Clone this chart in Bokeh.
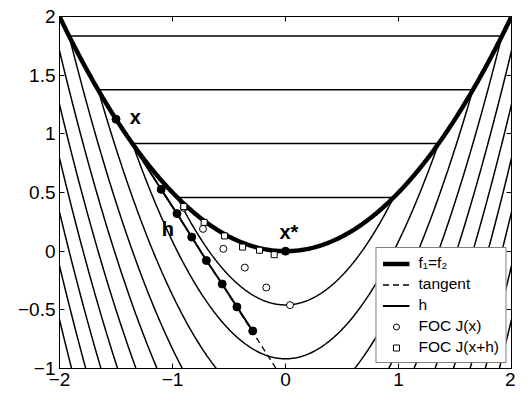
import numpy as np
from bokeh.plotting import figure
from bokeh.models import LinearAxis, FixedTicker, Range1d, Legend, LegendItem
from bokeh.core.properties import value
from bokeh.embed import file_html
from bokeh.resources import INLINE

# ---- data ----
levels = [0.458, 0.917, 1.375, 1.833, 2.292, 2.750, 3.208, 3.667, 4.125, 4.583]
x_ticks = [-2, -1, 0, 1, 2]
y_ticks = [-1, -0.5, 0, 0.5, 1, 1.5, 2]
x_tick_labels = ["\u22122", "\u22121", "0", "1", "2"]
y_tick_labels = ["\u22121", "\u22120.5", "0", "0.5", "1", "1.5", "2"]

h_x = [-1.50, -1.10, -0.96, -0.83, -0.70, -0.56, -0.43, -0.29]
h_y = [1.125, 0.527, 0.32, 0.12, -0.08, -0.28, -0.475, -0.68]
tangent_x = [-1.5, 0.0]
tangent_y = [1.125, -1.125]
focjx_x = [-0.90, -0.73, -0.55, -0.36, -0.17, 0.04]
focjx_y = [0.37, 0.19, 0.02, -0.14, -0.31, -0.46]
focjxh_x = [-0.90, -0.72, -0.54, -0.38, -0.23, -0.10]
focjxh_y = [0.38, 0.245, 0.13, 0.035, 0.008, -0.03]
xstar = [0.0, 0.0]

FONT = "Liberation Sans"

p = figure(width=515, height=394, output_backend="svg", toolbar_location=None,
           x_range=Range1d(-2, 2), y_range=Range1d(-1, 2),
           min_border_left=59, min_border_right=4, min_border_top=16, min_border_bottom=26,
           x_axis_location=None, y_axis_location=None)
p.grid.visible = False
p.outline_line_color = "black"
p.outline_line_width = 1
p.background_fill_color = "white"
p.border_fill_color = "white"

def mk_axis(labels_on, ticks, labels):
    ax = LinearAxis(ticker=FixedTicker(ticks=ticks))
    ax.major_tick_in = 5
    ax.major_tick_out = 0
    ax.minor_tick_line_color = None
    ax.axis_line_color = "black"
    ax.major_tick_line_color = "black"
    ax.major_label_text_font = FONT
    ax.major_label_text_color = "black"
    if labels_on:
        ax.major_label_overrides = {t: l for t, l in zip(ticks, labels)}
        ax.major_label_text_font_size = "19px"
        ax.major_label_standoff = 4
    else:
        ax.major_label_overrides = {t: "" for t in ticks}
        ax.major_label_text_font_size = "1px"
        ax.major_label_standoff = 0
    return ax

p.add_layout(mk_axis(True, x_ticks, x_tick_labels), "below")
p.add_layout(mk_axis(True, y_ticks, y_tick_labels), "left")
p.add_layout(mk_axis(False, x_ticks, x_tick_labels), "above")
p.add_layout(mk_axis(False, y_ticks, y_tick_labels), "right")

# contour lines of max(y, x^2 - y): top part horizontal, bottom part parabola
xs, ys = [], []
for c in levels:
    r = np.sqrt(2 * c)
    xx = np.linspace(-r, r, 300)
    xs.append(list(xx)); ys.append(list(xx ** 2 - c))
    if c <= 2.0:
        xs.append([-r, r]); ys.append([c, c])
p.multi_line(xs, ys, line_color="black", line_width=1.5)

# f1 = f2 curve
cx = np.linspace(-2, 2, 400)
thick = p.line(cx, cx ** 2 / 2, line_color="black", line_width=4.5)
tang = p.line(tangent_x, tangent_y, line_color="black", line_width=1.3, line_dash="6 4")
hl = p.line(h_x, h_y, line_color="black", line_width=2)
p.scatter(h_x, h_y, size=8, marker="circle", fill_color="black", line_color="black")
p.scatter(xstar[:1], xstar[1:], size=8, marker="circle", fill_color="black", line_color="black")
circ = p.scatter(focjx_x, focjx_y, size=7, marker="circle", fill_color="white",
                 line_color="black", line_width=1)
sq = p.scatter(focjxh_x, focjxh_y, size=6, marker="square", fill_color="white",
               line_color="black", line_width=1)

p.text(x=[-1.33, 0.03, -1.04], y=[1.14, 0.16, 0.19], text=["x", "x*", "h"],
       text_font=value(FONT), text_font_size="20px", text_font_style="bold",
       text_align="center", text_baseline="middle", text_color="black")

legend = Legend(items=[
    LegendItem(label="f\u2081=f\u2082", renderers=[thick]),
    LegendItem(label="tangent", renderers=[tang]),
    LegendItem(label="h", renderers=[hl]),
    LegendItem(label="FOC J(x)", renderers=[circ]),
    LegendItem(label="FOC J(x+h)", renderers=[sq]),
], location="bottom_right")
legend.label_text_font = FONT
legend.label_text_font_size = "15.5px"
legend.label_text_color = "black"
legend.glyph_width = 27
legend.glyph_height = 15
legend.label_height = 15
legend.label_standoff = 9
legend.spacing = 3
legend.padding = 6
legend.margin = 5
legend.border_line_color = "black"
legend.border_line_width = 1
legend.background_fill_alpha = 1
p.add_layout(legend, "center")

open("out.html", "w").write(file_html(p, INLINE))
